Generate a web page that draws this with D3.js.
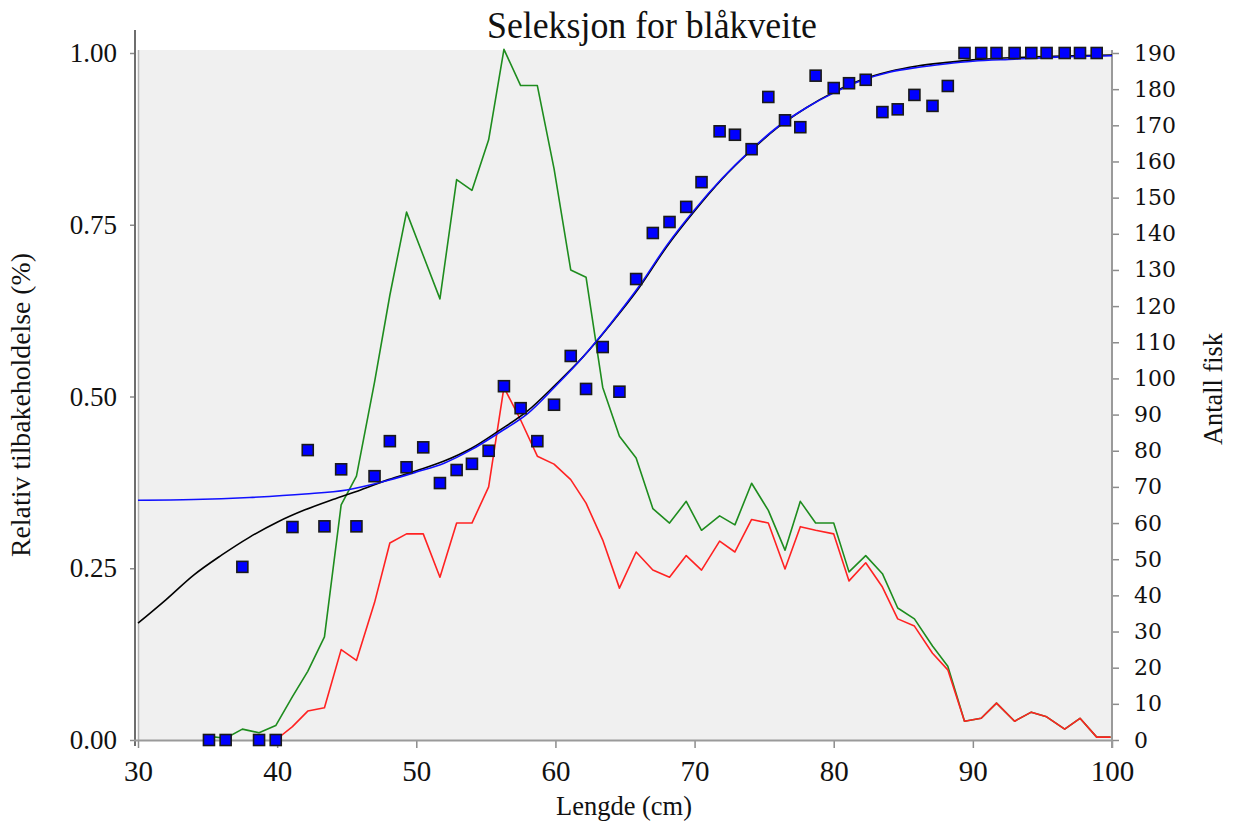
<!DOCTYPE html>
<html>
<head>
<meta charset="utf-8">
<script src="https://cdn.jsdelivr.net/npm/d3@7"></script>
<style>
  html, body { margin: 0; padding: 0; background: #ffffff; }
  svg { display: block; }
  .serif { font-family: "Liberation Serif", "Times New Roman", serif; }
</style>
</head>
<body>
<svg id="chart" width="1233" height="821"></svg>
<script>
// Length classes (cm) shared by the count lines and the retention points
const lengths = [35.1, 36.3, 37.5, 38.7, 39.9, 41.1, 42.2, 43.4, 44.6, 45.7,
  47.0, 48.1, 49.3, 50.5, 51.7, 52.9, 54.0, 55.2, 56.3, 57.5,
  58.7, 59.9, 61.1, 62.2, 63.4, 64.6, 65.8, 67.0, 68.2, 69.4,
  70.5, 71.8, 72.9, 74.1, 75.3, 76.5, 77.6, 78.7, 80.0, 81.1,
  82.3, 83.5, 84.6, 85.8, 87.1, 88.2, 89.4, 90.6, 91.7, 93.0,
  94.2, 95.3, 96.6, 97.7, 98.9, 99.9];

// Observed relative retention per length class (null = no observation)
const retention = [0, 0, 0.252, 0, 0, 0.310, 0.422, 0.311, 0.394, 0.311,
  0.384, 0.435, 0.397, 0.426, 0.374, 0.393, 0.402, 0.421, 0.515, 0.483,
  0.435, 0.488, 0.559, 0.511, 0.572, 0.507, 0.671, 0.738, 0.754, 0.776,
  0.812, 0.886, 0.881, 0.860, 0.936, 0.902, 0.892, 0.967, 0.949, 0.956,
  0.961, 0.914, 0.918, 0.939, 0.923, 0.952, 1, 1, 1, 1,
  1, 1, 1, 1, 1, null];

// Number of fish, total (green) and retained (red)
const totalFish = [1, 0.5, 3, 2, 4, 12, 19, 28.5, 65, 73,
  99, 123, 146, 134, 122, 155, 152, 166, 191, 181,
  181, 158, 130, 128, 97.5, 84, 78, 64, 60, 66,
  58, 62, 59.5, 71, 63.5, 52.5, 66, 60, 60, 46.5,
  51, 46, 36.5, 33.5, 26, 20.4, 5.2, 6, 10.2, 5.2,
  7.7, 6.4, 3, 6, 0.8, 0.8];
const retainedFish = [null, null, null, null, 0, 3.7, 8, 8.9, 25, 22,
  38, 54.5, 57, 57, 45, 60, 60, 70, 97.5, 88.5,
  78.5, 76.3, 72, 65.5, 55.3, 42, 52, 47, 45, 51,
  47, 55, 52, 61, 60, 47.3, 59, 58, 57, 44,
  49, 42.3, 33.5, 31.5, 24, 19.4, 5.2, 6, 10.2, 5.2,
  7.7, 6.4, 3, 6, 0.8, 0.8];

// Fitted selection curves, sampled along the length axis
const blueFitLength = [30, 34, 38, 42, 45, 48, 50, 52, 54, 56, 58, 60, 62, 64, 66, 68, 70,
  72, 74, 76, 78, 80, 82, 84, 86, 88, 90, 93, 96, 100];
const blueFitValue = [0.349, 0.350, 0.353, 0.358, 0.364, 0.378, 0.390, 0.403, 0.423, 0.448,
  0.475, 0.515, 0.558, 0.607, 0.660, 0.720, 0.772, 0.818, 0.858, 0.893, 0.920, 0.942,
  0.960, 0.972, 0.979, 0.984, 0.988, 0.991, 0.994, 0.996];
const blackFitLength = [30, 32, 34, 36, 38, 40, 42, 44, 46, 48, 50, 52, 54, 56, 58, 60, 62,
  64, 66, 68, 70, 72, 74, 76, 78, 80, 82, 84, 86, 88, 90, 94, 100];
const blackFitValue = [0.170, 0.204, 0.240, 0.269, 0.295, 0.317, 0.335, 0.350, 0.364, 0.379,
  0.392, 0.406, 0.425, 0.451, 0.479, 0.517, 0.558, 0.606, 0.658, 0.718, 0.770, 0.817,
  0.857, 0.892, 0.920, 0.943, 0.961, 0.973, 0.981, 0.986, 0.990, 0.994, 0.997];

// Axis ticks
const xTicks = [30, 40, 50, 60, 70, 80, 90, 100];
const leftTicks = [0, 0.25, 0.5, 0.75, 1];
const rightTicks = d3.range(0, 191, 10);

const titleText = "Seleksjon for blåkveite";
const xTitle = "Lengde (cm)";
const leftTitle = "Relativ tilbakeholdelse (%)";
const rightTitle = "Antall fisk";

// ---- layout ----
const plot = { left: 138, right: 1112, top: 50, bottom: 740 };
const svg = d3.select("#chart");

const x = d3.scaleLinear().domain([30, 100]).range([plot.left, plot.right]);
const yL = d3.scaleLinear().domain([0, 1]).range([740, 53]);
const yR = d3.scaleLinear().domain([0, 190]).range([740, 53]);

// plot background
svg.append("rect")
  .attr("x", plot.left).attr("y", plot.top)
  .attr("width", plot.right - plot.left).attr("height", plot.bottom - plot.top)
  .attr("fill", "#f0f0f0");

// title (narrow, tall lettering)
svg.append("text").attr("class", "serif")
  .attr("x", 487).attr("y", 38)
  .attr("font-size", 37)
  .attr("textLength", 330).attr("lengthAdjust", "spacingAndGlyphs")
  .attr("fill", "#111")
  .text(titleText);

// ---- axes ----
function styleAxis(g) {
  g.select(".domain").remove();
  g.selectAll(".tick line").attr("stroke", "#8c8c8c").attr("stroke-width", 1.5);
  g.selectAll(".tick text").attr("fill", "#111");
}

const gx = svg.append("g")
  .attr("transform", `translate(0,${plot.bottom})`)
  .call(d3.axisBottom(x).tickValues(xTicks).tickSize(8).tickPadding(12).tickFormat(d3.format("d")))
  .call(styleAxis);
gx.selectAll(".tick text").attr("class", "serif").attr("font-size", 29);

const gl = svg.append("g")
  .attr("transform", `translate(136,0)`)
  .call(d3.axisLeft(yL).tickValues(leftTicks).tickSize(6).tickPadding(13).tickFormat(d3.format(".2f")))
  .call(styleAxis);
gl.selectAll(".tick text").attr("class", "serif").attr("font-size", 27);

const gr = svg.append("g")
  .attr("transform", `translate(${plot.right},0)`)
  .call(d3.axisRight(yR).tickValues(rightTicks).tickSize(7).tickPadding(15).tickFormat(d3.format("d")))
  .call(styleAxis);
gr.selectAll(".tick text")
  .attr("font-family", "'DejaVu Serif', serif")
  .attr("font-size", 22);

// axis lines
svg.append("line").attr("x1", 135).attr("x2", 135).attr("y1", 30).attr("y2", 746)
  .attr("stroke", "#6e6e6e").attr("stroke-width", 2);
svg.append("line").attr("x1", 138.5).attr("x2", 138.5).attr("y1", 50).attr("y2", 740)
  .attr("stroke", "#b4b4b4").attr("stroke-width", 1.5);
svg.append("line").attr("x1", 134).attr("x2", plot.right).attr("y1", 740.5).attr("y2", 740.5)
  .attr("stroke", "#9a9a9a").attr("stroke-width", 2);
svg.append("line").attr("x1", plot.right).attr("x2", plot.right).attr("y1", 50).attr("y2", 748)
  .attr("stroke", "#9a9a9a").attr("stroke-width", 2);

// axis titles
svg.append("text").attr("class", "serif")
  .attr("x", 556).attr("y", 815)
  .attr("font-size", 28)
  .attr("textLength", 136).attr("lengthAdjust", "spacingAndGlyphs")
  .attr("fill", "#111")
  .text(xTitle);
svg.append("text").attr("class", "serif")
  .attr("transform", "translate(30,557) rotate(-90)")
  .attr("font-size", 27)
  .attr("textLength", 304).attr("lengthAdjust", "spacingAndGlyphs")
  .attr("fill", "#111")
  .text(leftTitle);
svg.append("text").attr("class", "serif")
  .attr("transform", "translate(1222,445) rotate(-90)")
  .attr("font-size", 27)
  .attr("textLength", 112).attr("lengthAdjust", "spacingAndGlyphs")
  .attr("fill", "#111")
  .text(rightTitle);

// ---- count lines (right axis) ----
const countLine = d3.line()
  .defined(d => d[1] != null)
  .x(d => x(d[0]))
  .y(d => yR(d[1]));

svg.append("path")
  .datum(lengths.map((l, i) => [l, totalFish[i]]))
  .attr("d", countLine)
  .attr("fill", "none").attr("stroke", "#1e8c1e").attr("stroke-width", 1.6)
  .attr("stroke-linejoin", "round");

svg.append("path")
  .datum(lengths.map((l, i) => [l, retainedFish[i]]))
  .attr("d", countLine)
  .attr("fill", "none").attr("stroke", "#ff2222").attr("stroke-width", 1.6)
  .attr("stroke-linejoin", "round");

// ---- fitted selection curves (left axis) ----
const fitLine = d3.line()
  .x(d => x(d[0]))
  .y(d => yL(d[1]))
  .curve(d3.curveMonotoneX);

svg.append("path")
  .datum(blackFitLength.map((l, i) => [l, blackFitValue[i]]))
  .attr("d", fitLine)
  .attr("fill", "none").attr("stroke", "#000").attr("stroke-width", 1.6);

svg.append("path")
  .datum(blueFitLength.map((l, i) => [l, blueFitValue[i]]))
  .attr("d", fitLine)
  .attr("fill", "none").attr("stroke", "#1010ff").attr("stroke-width", 1.6);

// ---- observed retention points ----
const pts = lengths.map((l, i) => ({ l, v: retention[i] })).filter(d => d.v != null);
const sq = 11;
svg.append("g").selectAll("rect")
  .data(pts)
  .join("rect")
  .attr("x", d => x(d.l) - sq / 2)
  .attr("y", d => yL(d.v) - sq / 2)
  .attr("width", sq).attr("height", sq)
  .attr("fill", "#0000ff")
  .attr("stroke", "#1a1a1a").attr("stroke-width", 1.6);
</script>
</body>
</html>
